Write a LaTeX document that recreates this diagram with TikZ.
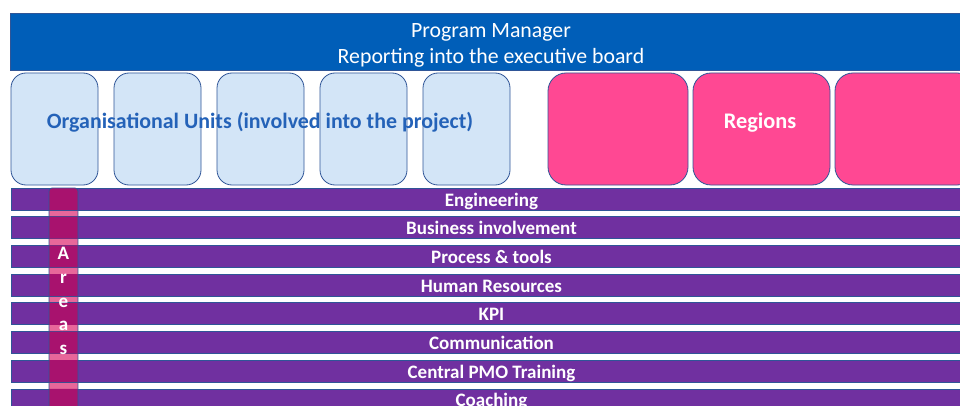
\documentclass[tikz,border=0pt]{standalone}
\usepackage{fontspec}
\setmainfont{Carlito}
\definecolor{hdrblue}{HTML}{005EB8}
\definecolor{edgeblue}{HTML}{2F5597}
\definecolor{unitfill}{HTML}{D3E5F7}
\definecolor{unittext}{HTML}{2462B8}
\definecolor{regpink}{HTML}{FF4893}
\definecolor{barpurple}{HTML}{7030A0}
\definecolor{areadark}{HTML}{A8126E}
\definecolor{arealight}{HTML}{E8679A}
\tikzset{
  header/.style={draw=edgeblue, line width=0.8pt, fill=hdrblue,
    minimum width=962pt, minimum height=57pt, inner sep=0pt},
  headertext/.style={text=white, align=center, inner sep=0pt, font=\fontsize{21.8}{25.5}\selectfont},
  unitbox/.style={draw=edgeblue, line width=0.8pt, fill=unitfill, rounded corners=15pt,
    minimum width=87pt, minimum height=112pt, inner sep=0pt},
  regbox/.style={draw=edgeblue, line width=0.8pt, fill=regpink, rounded corners=18pt,
    minimum width=138pt, minimum height=112pt, inner sep=0pt},
  areabar/.style={draw=edgeblue, line width=0.8pt, fill=barpurple, text=white,
    minimum width=961pt, minimum height=22pt, inner sep=0pt, text height=16pt, text depth=2pt,
    font=\bfseries\fontsize{19}{21}\selectfont},
}
\begin{document}
\begin{tikzpicture}[x=1pt,y=-1pt]
\useasboundingbox (0,0) rectangle (960,406);
\clip (0,0) rectangle (960,406);
\fill[white] (0,0) rectangle (960,406);
% header
\node[header] (pm) at (491,41.5) {};
\node[headertext] (pmtext) at (491,45.5) {Program Manager\\Reporting into the executive board};
% organisational units
\foreach \i/\cx in {1/54.5,2/157.5,3/260.5,4/363.5,5/466.5}
  \node[unitbox] (u\i) at (\cx,129) {};
\node[text=unittext, font=\bfseries\fontsize{21.9}{25}\selectfont, inner sep=0pt] (units) at (260,122.5) {Organisational Units (involved into the project)};
% regions
\node[regbox, minimum width=140pt] (r1) at (618,129) {};
\node[regbox, minimum width=137pt] (r2) at (761.5,129) {};
\node[regbox, minimum width=140pt] (r3) at (905,129) {};
\node[text=white, font=\bfseries\fontsize{22.3}{25}\selectfont, inner sep=0pt] (reg) at (760,122.5) {Regions};
% Areas background (visible in gaps)
\fill[arealight] (49,189) rectangle (78,420);
% bars
\foreach \i/\t in {0/Engineering,1/Business involvement,2/Process \& tools,3/Human Resources,4/KPI,5/Communication,6/Central PMO Training,7/Coaching}
  \node[areabar] (b\i) at (491.5,{199+28.7*\i}) {\t};
% Areas bar over the bars
\begin{scope}
  \clip \foreach \i in {0,...,7} {(49,{188+28.7*\i}) rectangle (78,{210+28.7*\i})};
  \fill[areadark, rounded corners=3pt] (49,188) rectangle (78,430);
\end{scope}
\draw[edgeblue, line width=0.8pt] (49,420) -- (49,191) arc[start angle=180, end angle=90, radius=3pt] -- (75,188) arc[start angle=90, end angle=0, radius=3pt] -- (78,420);
\node[text=white, align=center, font=\bfseries\fontsize{19}{23.7}\selectfont, inner sep=0pt] (areas) at (63.5,301) {A\\r\\e\\a\\s};
\end{tikzpicture}
\end{document}
